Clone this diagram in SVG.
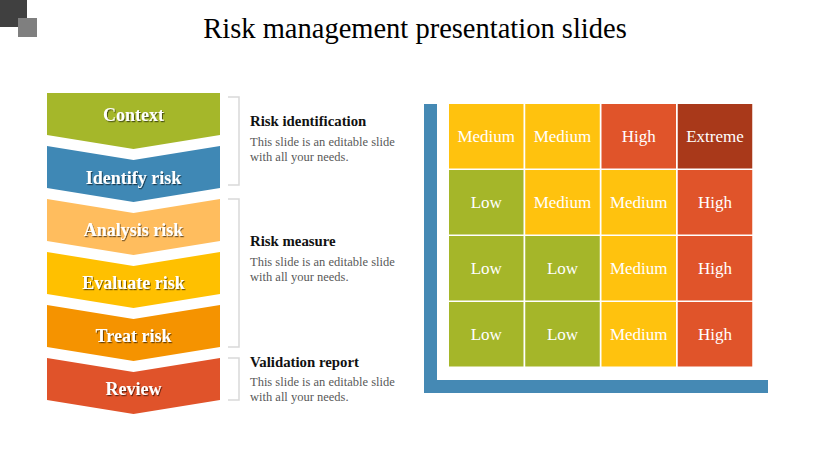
<svg xmlns="http://www.w3.org/2000/svg" width="830" height="466" viewBox="0 0 830 466">
<defs>
<style>
.chev{stroke:none}
.clab{font-family:"Liberation Serif",serif;font-weight:bold;font-size:18px;fill:#fff;text-anchor:middle}
.brk{fill:none;stroke:#d9d9d9;stroke-width:1.5}
.hd{font-family:"Liberation Serif",serif;font-weight:bold;font-size:14.8px;fill:#111}
.bd{font-family:"Liberation Serif",serif;font-size:12.5px;fill:#595959}
.cell text{font-family:"Liberation Serif",serif;font-size:17px;fill:#fff;text-anchor:middle}
.med{fill:#ffc20e}.low{fill:#a5b629}.high{fill:#e0542a}.ext{fill:#a9391a}
</style>
<filter id="sh" x="-10%" y="-30%" width="120%" height="160%">
<feDropShadow dx="1" dy="1.2" stdDeviation="0.6" flood-color="#000" flood-opacity="0.55"/>
</filter>
</defs>
<rect width="830" height="466" fill="#fff"/>
<rect x="0" y="0" width="27" height="27" fill="#404040"/>
<rect x="18" y="18" width="19" height="19" fill="#7f7f7f"/>
<text x="415" y="38" font-family="'Liberation Serif',serif" font-size="28.5" fill="#000" text-anchor="middle">Risk management presentation slides</text>

<g id="chevrons">
<g id="n-context"><path class="chev" fill="#a5b72a" d="M47,93 L220,93 L220,135 L133.5,149 L47,135 Z"/><text class="clab" x="133.5" y="121" filter="url(#sh)">Context</text></g>
<g id="n-identify"><path class="chev" fill="#3f88b5" d="M47,146 L133.5,160 L220,146 L220,188 L133.5,202 L47,188 Z"/><text class="clab" x="133.5" y="184" filter="url(#sh)">Identify risk</text></g>
<g id="n-analysis"><path class="chev" fill="#ffbd5e" d="M47,199 L133.5,213 L220,199 L220,241 L133.5,255 L47,241 Z"/><text class="clab" x="133.5" y="236" filter="url(#sh)">Analysis risk</text></g>
<g id="n-evaluate"><path class="chev" fill="#ffc000" d="M47,252 L133.5,266 L220,252 L220,294 L133.5,308 L47,294 Z"/><text class="clab" x="133.5" y="289" filter="url(#sh)">Evaluate risk</text></g>
<g id="n-treat"><path class="chev" fill="#f59300" d="M47,305 L133.5,319 L220,305 L220,347 L133.5,361 L47,347 Z"/><text class="clab" x="133.5" y="342" filter="url(#sh)">Treat risk</text></g>
<g id="n-review"><path class="chev" fill="#e0532a" d="M47,358 L133.5,372 L220,358 L220,400 L133.5,414 L47,400 Z"/><text class="clab" x="133.5" y="395" filter="url(#sh)">Review</text></g>
</g>

<g id="connectors">
<path class="brk" d="M228,97 H239 V185 H228"/>
<path class="brk" d="M228,199 H239 V347 H228"/>
<path class="brk" d="M228,358 H239 V400 H228"/>
</g>

<g id="n-risk-identification">
<text class="hd" x="250" y="126">Risk identification</text>
<text class="bd" x="250" y="145.5">This slide is an editable slide</text>
<text class="bd" x="250" y="160.5">with all your needs.</text>
</g>
<g id="n-risk-measure">
<text class="hd" x="250" y="246">Risk measure</text>
<text class="bd" x="250" y="266">This slide is an editable slide</text>
<text class="bd" x="250" y="281">with all your needs.</text>
</g>
<g id="n-validation-report">
<text class="hd" x="250" y="366.5">Validation report</text>
<text class="bd" x="250" y="386">This slide is an editable slide</text>
<text class="bd" x="250" y="401">with all your needs.</text>
</g>

<g id="matrix-axes">
<rect x="424" y="104" width="13" height="289" fill="#4589b4"/>
<rect x="424" y="380" width="344" height="13" fill="#4589b4"/>
</g>

<g id="matrix">
<g class="cell" id="c11"><rect class="med" x="449" y="104" width="74.5" height="64.5"/><text x="486.25" y="142">Medium</text></g>
<g class="cell" id="c12"><rect class="med" x="525.25" y="104" width="74.5" height="64.5"/><text x="562.5" y="142">Medium</text></g>
<g class="cell" id="c13"><rect class="high" x="601.5" y="104" width="74.5" height="64.5"/><text x="638.75" y="142">High</text></g>
<g class="cell" id="c14"><rect class="ext" x="677.75" y="104" width="74.5" height="64.5"/><text x="715" y="142">Extreme</text></g>

<g class="cell" id="c21"><rect class="low" x="449" y="170" width="74.5" height="64.5"/><text x="486.25" y="208">Low</text></g>
<g class="cell" id="c22"><rect class="med" x="525.25" y="170" width="74.5" height="64.5"/><text x="562.5" y="208">Medium</text></g>
<g class="cell" id="c23"><rect class="med" x="601.5" y="170" width="74.5" height="64.5"/><text x="638.75" y="208">Medium</text></g>
<g class="cell" id="c24"><rect class="high" x="677.75" y="170" width="74.5" height="64.5"/><text x="715" y="208">High</text></g>

<g class="cell" id="c31"><rect class="low" x="449" y="236" width="74.5" height="64.5"/><text x="486.25" y="274">Low</text></g>
<g class="cell" id="c32"><rect class="low" x="525.25" y="236" width="74.5" height="64.5"/><text x="562.5" y="274">Low</text></g>
<g class="cell" id="c33"><rect class="med" x="601.5" y="236" width="74.5" height="64.5"/><text x="638.75" y="274">Medium</text></g>
<g class="cell" id="c34"><rect class="high" x="677.75" y="236" width="74.5" height="64.5"/><text x="715" y="274">High</text></g>

<g class="cell" id="c41"><rect class="low" x="449" y="302" width="74.5" height="64.5"/><text x="486.25" y="340">Low</text></g>
<g class="cell" id="c42"><rect class="low" x="525.25" y="302" width="74.5" height="64.5"/><text x="562.5" y="340">Low</text></g>
<g class="cell" id="c43"><rect class="med" x="601.5" y="302" width="74.5" height="64.5"/><text x="638.75" y="340">Medium</text></g>
<g class="cell" id="c44"><rect class="high" x="677.75" y="302" width="74.5" height="64.5"/><text x="715" y="340">High</text></g>
</g>
</svg>
